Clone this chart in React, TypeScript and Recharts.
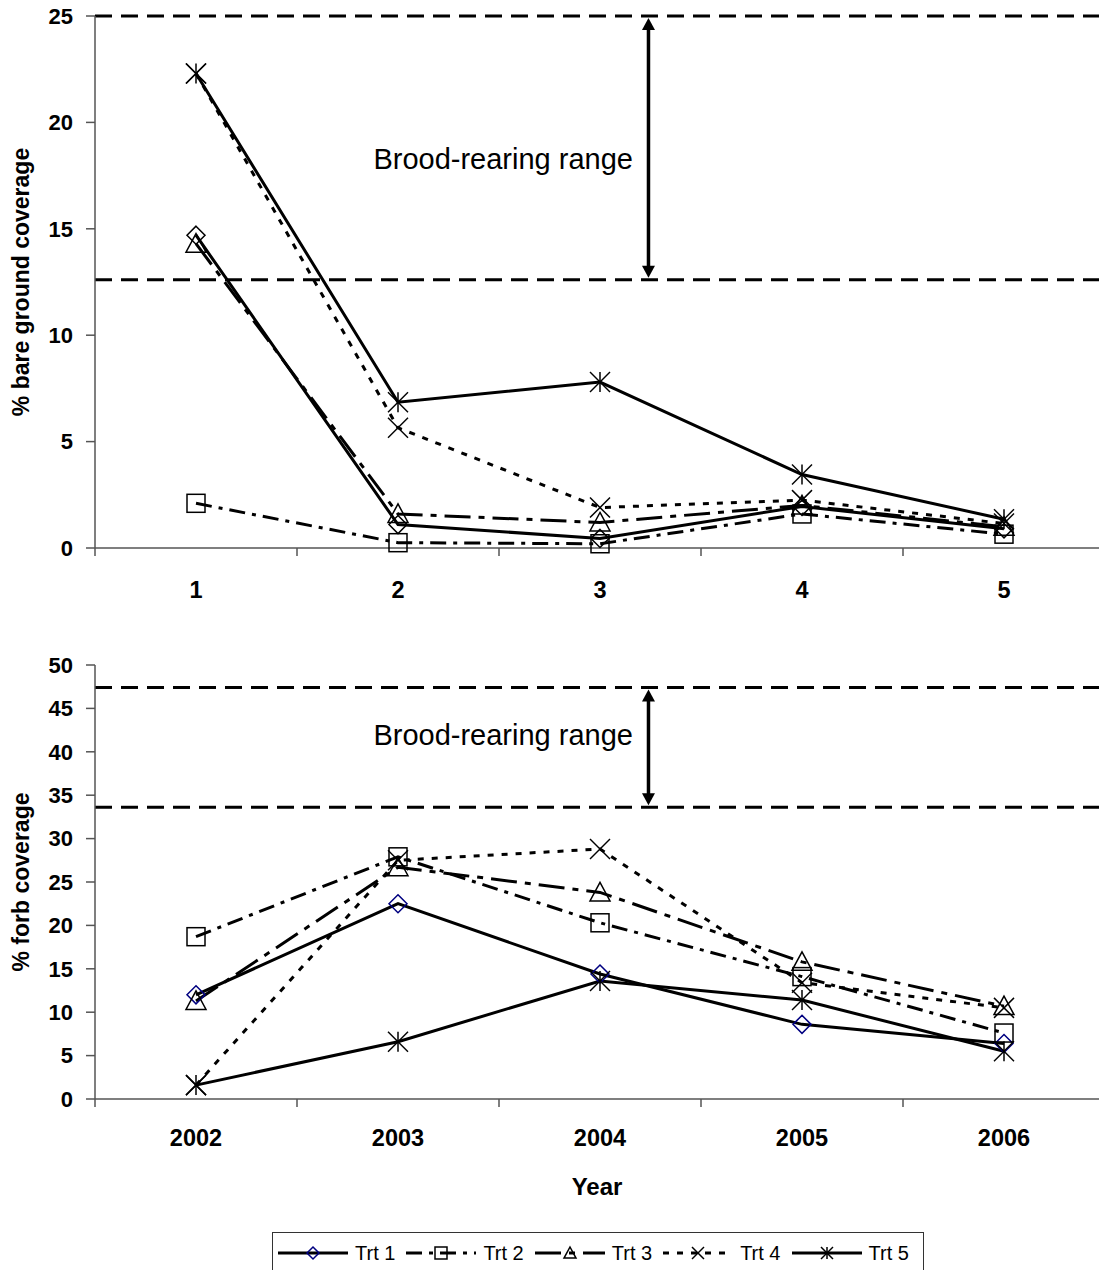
import React from "react";
import { Label, Line, LineChart, ReferenceDot, ReferenceLine, XAxis, YAxis } from "recharts";

const FONT = "'Liberation Sans', Arial, Helvetica, sans-serif";

// categories
const rounds = [1, 2, 3, 4, 5];
const years = [2002, 2003, 2004, 2005, 2006];
const seriesNames = ["Trt 1", "Trt 2", "Trt 3", "Trt 4", "Trt 5"];

// % bare ground coverage
const bareTrt1 = [14.7, 1.1, 0.45, 1.95, 0.9];
const bareTrt2 = [2.1, 0.25, 0.2, 1.6, 0.65];
const bareTrt3 = [14.3, 1.6, 1.2, 2.0, 1.0];
const bareTrt4 = [22.3, 5.65, 1.9, 2.25, 1.15];
const bareTrt5 = [22.3, 6.85, 7.8, 3.45, 1.35];

// % forb coverage
const forbTrt1 = [12.0, 22.5, 14.4, 8.6, 6.4];
const forbTrt2 = [18.7, 27.9, 20.3, 14.1, 7.6];
const forbTrt3 = [11.3, 26.7, 23.8, 15.8, 10.7];
const forbTrt4 = [1.6, 27.5, 28.8, 13.4, 10.5];
const forbTrt5 = [1.6, 6.6, 13.6, 11.4, 5.5];

// ticks and brood-rearing ranges
const bareTicks = [0, 5, 10, 15, 20, 25];
const forbTicks = [0, 5, 10, 15, 20, 25, 30, 35, 40, 45, 50];
const bareRange = [12.6, 25];
const forbRange = [33.6, 47.4];

const keys = ["t1", "t2", "t3", "t4", "t5"];

function buildRows(xs: number[], cols: number[][]) {
  return xs.map((x, i) => {
    const row: Record<string, number> = { x };
    cols.forEach((c, j) => (row[keys[j]] = c[i]));
    return row;
  });
}

const bareRows = buildRows(rounds, [bareTrt1, bareTrt2, bareTrt3, bareTrt4, bareTrt5]);
const forbRows = buildRows(years, [forbTrt1, forbTrt2, forbTrt3, forbTrt4, forbTrt5]);

const styles = [
  { dash: undefined, marker: "diamond" },
  { dash: "16 7 4 7", marker: "square" },
  { dash: "26 8 6 8", marker: "triangle" },
  { dash: "6 8", marker: "cross" },
  { dash: undefined, marker: "star" },
];

function Marker({ cx, cy, shape, color, s }: any) {
  const h = s / 2;
  const common = { fill: "none", stroke: color, strokeWidth: 1.5 };
  if (shape === "diamond")
    return <polygon points={`${cx},${cy - h} ${cx + h},${cy} ${cx},${cy + h} ${cx - h},${cy}`} {...common} />;
  if (shape === "square") return <rect x={cx - h} y={cy - h} width={s} height={s} {...common} />;
  if (shape === "triangle")
    return <polygon points={`${cx},${cy - h} ${cx + h},${cy + h * 0.85} ${cx - h},${cy + h * 0.85}`} {...common} />;
  if (shape === "cross")
    return (
      <g {...common}>
        <line x1={cx - h} y1={cy - h} x2={cx + h} y2={cy + h} />
        <line x1={cx - h} y1={cy + h} x2={cx + h} y2={cy - h} />
      </g>
    );
  return (
    <g {...common}>
      <line x1={cx - h} y1={cy - h} x2={cx + h} y2={cy + h} />
      <line x1={cx - h} y1={cy + h} x2={cx + h} y2={cy - h} />
      <line x1={cx} y1={cy - h} x2={cx} y2={cy + h} />
    </g>
  );
}

function markerSize(shape: string) {
  return shape === "diamond" || shape === "square" ? 18 : 20;
}

function Arrow(props: any) {
  const { x1, y1, y2 } = props;
  const top = Math.min(y1, y2) + 2;
  const bot = Math.max(y1, y2) - 2;
  return (
    <g>
      <line x1={x1} y1={top + 10} x2={x1} y2={bot - 10} stroke="#000" strokeWidth={3.5} />
      <polygon points={`${x1},${top} ${x1 + 6.5},${top + 12} ${x1 - 6.5},${top + 12}`} fill="#000" />
      <polygon points={`${x1},${bot} ${x1 + 6.5},${bot - 12} ${x1 - 6.5},${bot - 12}`} fill="#000" />
    </g>
  );
}

// labels sit on the categories, tick marks sit on the boundaries between them
function XTick(props: any) {
  const { x, y, payload, labelOffset } = props;
  const v = payload.value;
  if (!Number.isInteger(v)) {
    return <line x1={x} y1={y} x2={x} y2={y + 8} stroke="#555" strokeWidth={1.5} />;
  }
  return (
    <text x={x} y={y + labelOffset} textAnchor="middle" fontSize={23.5} fontWeight="bold" fontFamily={FONT} fill="#000">
      {v}
    </text>
  );
}

type PanelProps = {
  rows: any[];
  xs: number[];
  yTicks: number[];
  range: number[];
  yTitle: string;
  xTitle?: string;
  height: number;
  marginTop: number;
  axisHeight: number;
  labelOffset: number;
  diamondColor: string;
  textY: number;
};

function Panel(p: PanelProps) {
  const lo = p.xs[0] - 0.5;
  const hi = p.xs[p.xs.length - 1] + 0.5;
  const allTicks = [lo, ...p.xs.flatMap((v) => [v, v + 0.5])];
  const arrowX = p.xs[0] + 2.24;
  const axisGrey = "#555";
  const tickFont = { fill: "#000", fontSize: 22, fontWeight: "bold", fontFamily: FONT };
  return (
    <LineChart
      width={1105}
      height={p.height}
      data={p.rows}
      margin={{ top: p.marginTop, right: 0, bottom: 0, left: 0 }}
    >
      <XAxis
        type="number"
        dataKey="x"
        domain={[lo, hi]}
        ticks={allTicks}
        interval={0}
        tickLine={false}
        tickSize={0}
        tickMargin={0}
        height={p.axisHeight}
        stroke={axisGrey}
        strokeWidth={1.5}
        tick={(tp: any) => <XTick {...tp} labelOffset={p.labelOffset} />}
      >
        {p.xTitle ? (
          <Label
            content={(lp: any) => {
              const vb = lp.viewBox || { x: 0, y: 0, width: 1105 };
              return (
                <text
                  x={vb.x + vb.width / 2 - 3}
                  y={vb.y + 96}
                  textAnchor="middle"
                  fontSize={24}
                  fontWeight="bold"
                  fontFamily={FONT}
                  fill="#000"
                >
                  {p.xTitle}
                </text>
              );
            }}
          />
        ) : null}
      </XAxis>
      <YAxis
        type="number"
        width={95}
        domain={[p.yTicks[0], p.yTicks[p.yTicks.length - 1]]}
        ticks={p.yTicks}
        interval={0}
        tickSize={9}
        tickMargin={13}
        stroke={axisGrey}
        strokeWidth={1.5}
        tick={tickFont}
      >
        <Label
          content={(lp: any) => {
            const vb = lp.viewBox || { x: 0, y: p.marginTop, height: 500 };
            const cy = vb.y + vb.height / 2;
            return (
              <text
                x={29}
                y={cy}
                transform={`rotate(-90 29 ${cy})`}
                textAnchor="middle"
                fontSize={23}
                fontWeight="bold"
                fontFamily={FONT}
                fill="#000"
              >
                {p.yTitle}
              </text>
            );
          }}
        />
      </YAxis>
      {p.range.map((v) => (
        <ReferenceLine key={v} y={v} stroke="#000" strokeWidth={3} strokeDasharray="17 9" />
      ))}
      <ReferenceLine
        segment={[
          { x: arrowX, y: p.range[1] },
          { x: arrowX, y: p.range[0] },
        ]}
        shape={Arrow}
      />
      <ReferenceDot
        x={arrowX - 0.077}
        y={p.textY}
        r={0}
        fill="none"
        stroke="none"
        label={{
          content: (lp: any) => {
            const vb = lp.viewBox || { x: 0, y: 0 };
            return (
              <text x={vb.x} y={vb.y} textAnchor="end" fontSize={29} fontFamily={FONT} fill="#000">
                Brood-rearing range
              </text>
            );
          },
        }}
      />
      {keys.map((k, j) => {
        const st = styles[j];
        const color = st.marker === "diamond" ? p.diamondColor : "#000";
        return (
          <Line
            key={k}
            dataKey={k}
            name={seriesNames[j]}
            stroke="#000"
            strokeWidth={3}
            strokeDasharray={st.dash}
            isAnimationActive={false}
            dot={(dp: any) => (
              <Marker
                key={`${k}-${dp.index}`}
                cx={dp.cx}
                cy={dp.cy}
                shape={st.marker}
                color={color}
                s={markerSize(st.marker)}
              />
            )}
            activeDot={false}
          />
        );
      })}
    </LineChart>
  );
}

function LegendBox() {
  return (
    <div
      style={{
        position: "absolute",
        left: 272,
        top: 1232,
        width: 652,
        height: 50,
        border: "1px solid #333",
        boxSizing: "border-box",
        display: "flex",
        alignItems: "flex-start",
        paddingLeft: 5,
        paddingTop: 8,
        fontFamily: FONT,
        fontSize: 20,
        whiteSpace: "nowrap",
      }}
    >
      {seriesNames.map((n, j) => {
        const st = styles[j];
        const color = st.marker === "diamond" ? "#000080" : "#000";
        return (
          <div key={n} style={{ display: "flex", alignItems: "center", marginRight: 11, flexShrink: 0 }}>
            <svg width={70} height={24} style={{ display: "block" }}>
              <line x1={0} y1={12} x2={70} y2={12} stroke="#000" strokeWidth={3} strokeDasharray={st.dash} />
              <Marker cx={35} cy={12} shape={st.marker} color={color} s={12} />
            </svg>
            <span style={{ marginLeft: 7, lineHeight: "24px" }}>{n}</span>
          </div>
        );
      })}
    </div>
  );
}

export default function App() {
  return (
    <div
      style={{
        position: "absolute",
        left: 0,
        top: 0,
        width: 1099,
        height: 1270,
        overflow: "hidden",
        background: "#fff",
      }}
    >
      <div style={{ position: "absolute", left: 0, top: 0 }}>
        <Panel
          rows={bareRows}
          xs={rounds}
          yTicks={bareTicks}
          range={bareRange}
          yTitle="% bare ground coverage"
          height={610}
          marginTop={16}
          axisHeight={62}
          labelOffset={50}
          diamondColor="#000"
          textY={17.8}
        />
      </div>
      <div style={{ position: "absolute", left: 0, top: 610 }}>
        <Panel
          rows={forbRows}
          xs={years}
          yTicks={forbTicks}
          range={forbRange}
          yTitle="% forb coverage"
          xTitle="Year"
          height={610}
          marginTop={55}
          axisHeight={121}
          labelOffset={47}
          diamondColor="#000080"
          textY={40.8}
        />
      </div>
      <LegendBox />
    </div>
  );
}
